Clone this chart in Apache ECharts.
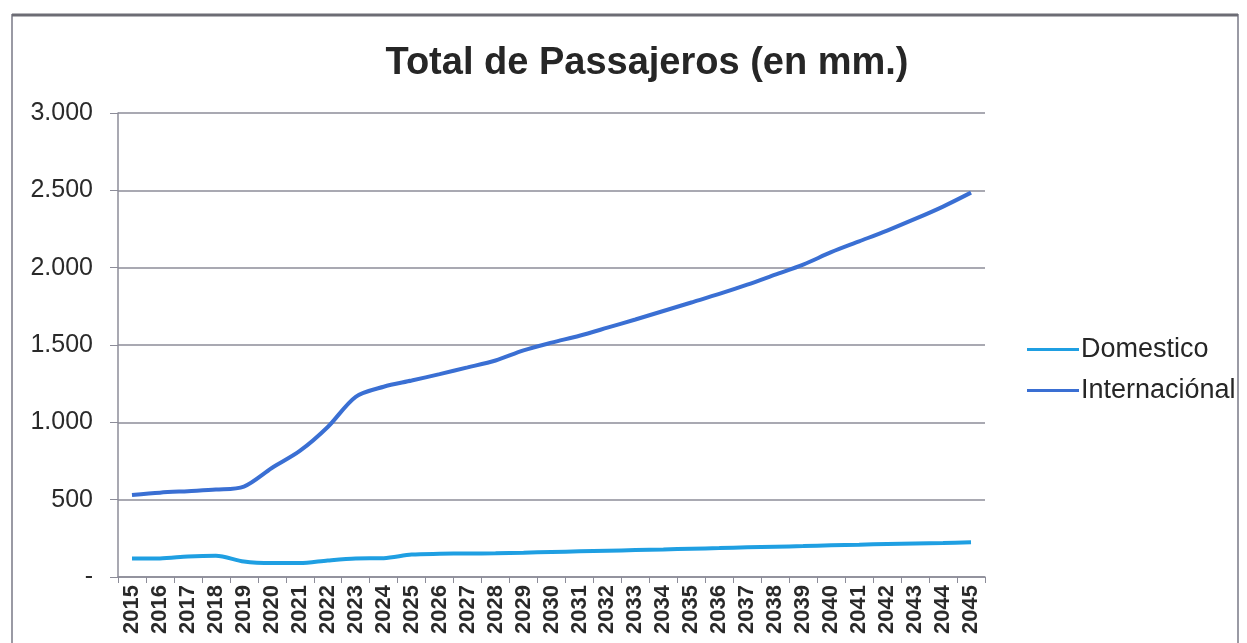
<!DOCTYPE html>
<html>
<head>
<meta charset="utf-8">
<script src="https://cdn.jsdelivr.net/npm/echarts@6/dist/echarts.min.js"></script>
<style>
  html, body { margin: 0; padding: 0; background: #ffffff; }
  #chart { width: 1247px; height: 643px; }
</style>
</head>
<body>
<div id="chart"></div>
<script>
// Passenger totals per year, in millions
const years = [
  '2015','2016','2017','2018','2019','2020','2021','2022','2023','2024',
  '2025','2026','2027','2028','2029','2030','2031','2032','2033','2034',
  '2035','2036','2037','2038','2039','2040','2041','2042','2043','2044','2045'
];
const domestico = [
  120, 120, 133, 138, 100, 90, 90, 107, 120, 122,
  145, 150, 152, 153, 157, 162, 166, 170, 174, 178,
  183, 187, 192, 196, 200, 205, 209, 213, 217, 220, 225
];
const internacional = [
  530, 545, 555, 565, 585, 705, 815, 970, 1165, 1230,
  1270, 1312, 1355, 1400, 1465, 1515, 1560, 1612, 1665, 1720,
  1775, 1830, 1890, 1955, 2020, 2100, 2170, 2240, 2315, 2395, 2485
];
const seriesNames = ['Domestico', 'Internaciónal'];
const titleText = 'Total de Passajeros (en mm.)';

const font = "'Liberation Sans', Arial, sans-serif";
const axisGray = '#8c8c98';

function fmtThousands(v) {
  if (v === 0) return '-';
  return String(v).replace(/\B(?=(\d{3})+(?!\d))/g, '.');
}

const chart = echarts.init(document.getElementById('chart'), null, { renderer: 'canvas' });
chart.setOption({
  backgroundColor: '#ffffff',
  animation: false,
  title: {
    text: titleText,
    left: 642,
    top: 40,
    textAlign: 'center',
    textStyle: { fontFamily: font, fontSize: 38, fontWeight: 'bold', color: '#262626' }
  },
  legend: {
    orient: 'vertical',
    left: 1022,
    top: 331,
    itemGap: 14,
    itemWidth: 52,
    itemHeight: 3,
    icon: 'rect',
    data: seriesNames,
    textStyle: { fontFamily: font, fontSize: 27, color: '#262626', padding: [0, 0, 0, -3] }
  },
  grid: { left: 118, right: 262, top: 113, bottom: 66, containLabel: false },
  xAxis: {
    type: 'category',
    data: years,
    boundaryGap: true,
    axisLine: { lineStyle: { color: axisGray, width: 1.5 } },
    axisTick: { show: true, length: 6, lineStyle: { color: axisGray } },
    axisLabel: {
      interval: 0, rotate: 90, margin: 8,
      fontFamily: font, fontSize: 22, fontWeight: 'bold', color: '#2a2a2a'
    }
  },
  yAxis: {
    type: 'value',
    min: 0, max: 3000, interval: 500,
    axisLine: { show: true, lineStyle: { color: axisGray, width: 1.5 } },
    axisTick: { show: true, length: 8, inside: false, lineStyle: { color: axisGray } },
    splitLine: { show: true, lineStyle: { color: axisGray, width: 1.5 } },
    axisLabel: {
      margin: 25,
      formatter: fmtThousands,
      fontFamily: font, fontSize: 25, color: '#2a2a2a'
    }
  },
  graphic: [
    {
      type: 'rect', z: -1, silent: true,
      shape: { x: 12, y: 15, width: 1226, height: 700 },
      style: { fill: 'none', stroke: '#9a9aa4', lineWidth: 2 }
    },
    {
      type: 'line', z: -1, silent: true,
      shape: { x1: 12, y1: 15, x2: 1238, y2: 15 },
      style: { stroke: '#6c6c74', lineWidth: 3 }
    }
  ],
  series: [
    {
      name: seriesNames[0],
      type: 'line',
      data: domestico,
      smooth: 0.3,
      symbol: 'none',
      lineStyle: { width: 4, color: '#1f9fe2' },
      itemStyle: { color: '#1f9fe2' }
    },
    {
      name: seriesNames[1],
      type: 'line',
      data: internacional,
      smooth: 0.3,
      symbol: 'none',
      lineStyle: { width: 4, color: '#3a6fd3' },
      itemStyle: { color: '#3a6fd3' }
    }
  ]
});
</script>
</body>
</html>
